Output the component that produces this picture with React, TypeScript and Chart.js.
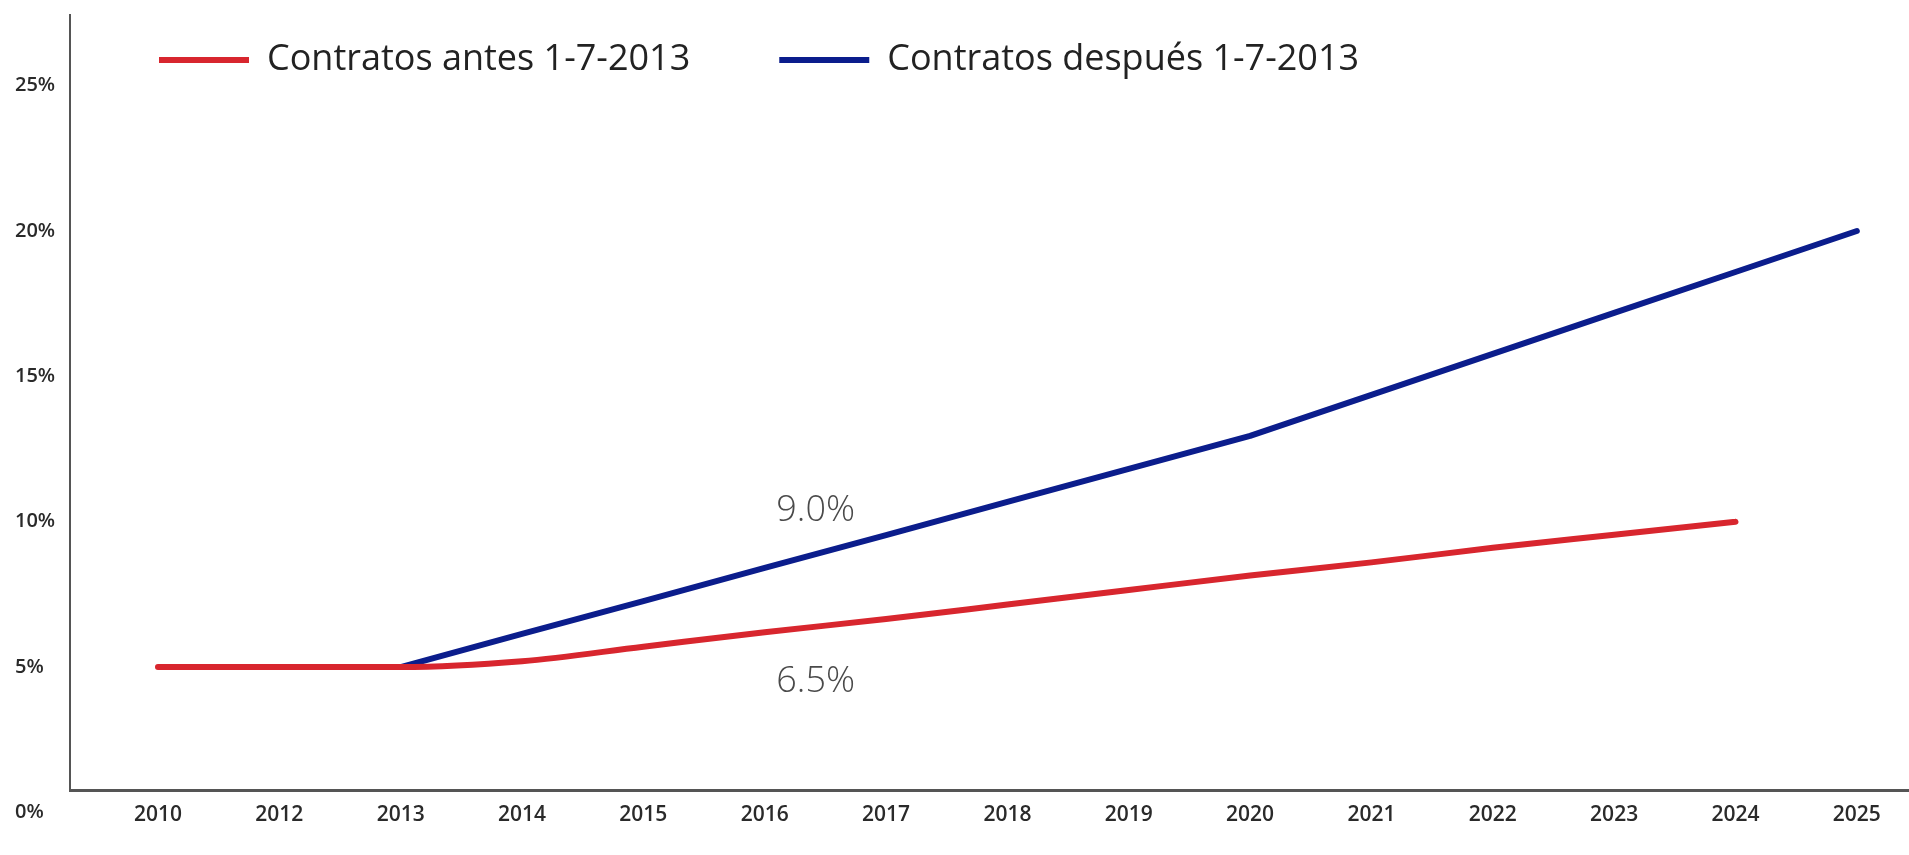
import React, { useEffect, useRef } from "react";
import { Chart, registerables } from "chart.js";

Chart.register(...registerables);

const categories = ["2010", "2012", "2013", "2014", "2015", "2016", "2017", "2018", "2019", "2020", "2021", "2022", "2023", "2024", "2025"];
const antesLabel = "Contratos antes 1-7-2013";
const despuesLabel = "Contratos después 1-7-2013";
// Red series: 2010 .. 2024
const antesValues = [5, 5, 5, 5.2, 5.7, 6.2, 6.65, 7.15, 7.65, 8.15, 8.6, 9.1, 9.55, 10.0];
// Blue series: 2013 .. 2025
const despuesStart = 2;
const despuesValues = [5, 6.14, 7.27, 8.41, 9.54, 10.68, 11.82, 12.95, 14.36, 15.77, 17.18, 18.59, 20.0];
const yTicks = [0, 5, 10, 15, 20, 25];
const annTexts = ["9.0%", "6.5%"];
const annX = [5.42, 5.42];
const annY = [10.38, 4.5];

const RED = "#d8262e";
const BLUE = "#0b1d8c";
const FONT = "'Open Sans', sans-serif";
const LEGEND_CENTER_Y = 60;

export default function App() {
  const ref = useRef<HTMLCanvasElement | null>(null);
  useEffect(() => {
    if (!ref.current) return;
    const annPlugin = {
      id: "annTexts",
      afterDatasetsDraw(chart: any) {
        const { ctx } = chart;
        ctx.save();
        ctx.font = `300 36px ${FONT}`;
        ctx.fillStyle = "#4a4a4a";
        ctx.textAlign = "center";
        ctx.textBaseline = "middle";
        annTexts.forEach((t, i) => {
          ctx.fillText(t, chart.scales.x.getPixelForValue(annX[i]), chart.scales.y.getPixelForValue(annY[i]));
        });
        ctx.restore();
      },
    };
    const legendShift = {
      id: "legendShift",
      afterLayout(chart: any) {
        const lg = chart.legend;
        if (!lg) return;
        const pad = lg.options.labels.padding;
        const fs = lg.options.labels.font.size;
        lg.top = LEGEND_CENTER_Y - pad - fs / 2;
        lg.bottom = LEGEND_CENTER_Y + fs;
        lg.height = lg.bottom - lg.top;
      },
    };
    const chart = new Chart(ref.current, {
      type: "line",
      data: {
        datasets: [
          {
            label: antesLabel,
            data: antesValues.map((v, i) => ({ x: i, y: v })),
            borderColor: RED,
            backgroundColor: RED,
            borderWidth: 6,
            borderCapStyle: "round",
            borderJoinStyle: "round",
            pointRadius: 0,
            cubicInterpolationMode: "monotone",
          },
          {
            label: despuesLabel,
            data: despuesValues.map((v, i) => ({ x: i + despuesStart, y: v })),
            borderColor: BLUE,
            backgroundColor: BLUE,
            borderWidth: 6,
            borderCapStyle: "round",
            borderJoinStyle: "round",
            pointRadius: 0,
          },
        ],
      },
      options: {
        responsive: false,
        animation: false,
        layout: { padding: { top: 14, left: 15, right: 0, bottom: 0 } },
        plugins: {
          tooltip: { enabled: false },
          legend: {
            position: "top",
            align: "start",
            fullSize: false,
            maxHeight: 1,
            labels: {
              usePointStyle: true,
              pointStyle: "line",
              pointStyleWidth: 90,
              padding: 89,
              color: "#222",
              font: { family: FONT, size: 36, weight: "400" },
            },
          },
        },
        scales: {
          x: {
            type: "linear",
            min: -0.725,
            max: 14.43,
            grid: { display: false, drawTicks: false },
            border: { display: true, color: "#555", width: 3 },
            afterBuildTicks: (scale: any) => {
              scale.ticks = categories.map((_, i) => ({ value: i }));
            },
            afterFit: (scale: any) => {
              scale.height = 65;
            },
            ticks: {
              autoSkip: false,
              maxRotation: 0,
              padding: 12,
              color: "#2a2a2a",
              font: { family: FONT, size: 21, weight: "600" },
              callback: (v: any) => categories[v as number],
            },
          },
          y: {
            min: 0.77,
            max: 27.43,
            grid: { display: false, drawTicks: false },
            border: { display: true, color: "#555", width: 2 },
            afterBuildTicks: (scale: any) => {
              scale.ticks = yTicks.map((v) => ({ value: v }));
            },
            afterFit: (scale: any) => {
              scale.width = 55;
            },
            ticks: {
              autoSkip: false,
              crossAlign: "far",
              color: "#2a2a2a",
              font: { family: FONT, size: 20, weight: "600" },
              callback: (v: any) => `${v}%`,
            },
          },
        },
      },
      plugins: [annPlugin, legendShift],
    } as any);
    return () => chart.destroy();
  }, []);
  return (
    <canvas
      ref={ref}
      width={1909}
      height={855}
      style={{ position: "fixed", left: 0, top: 0, display: "block", background: "#fff" }}
    />
  );
}
